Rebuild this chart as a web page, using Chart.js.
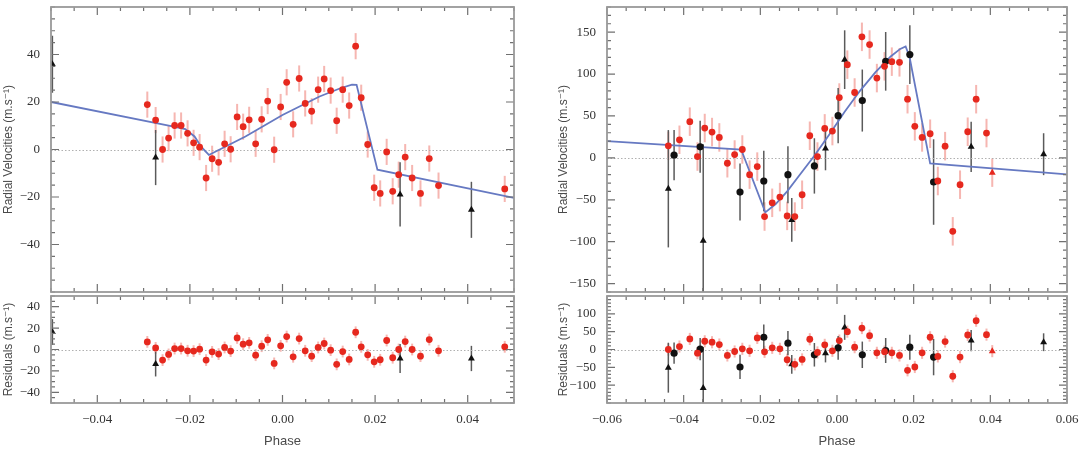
<!DOCTYPE html>
<html>
<head>
<meta charset="utf-8">
<script src="https://cdn.jsdelivr.net/npm/chart.js@4.4.1/dist/chart.umd.min.js"></script>
<style>
  html, body { margin: 0; padding: 0; background: #fff; }
  #wrap { position: relative; width: 1080px; height: 450px; overflow: hidden; background: #fff; }
  canvas { position: absolute; }
</style>
</head>
<body>
<div id="wrap">
  <canvas id="leftMain" width="520" height="300" style="left:0;top:0"></canvas>
  <canvas id="leftRes" width="520" height="160" style="left:0;top:290px"></canvas>
  <canvas id="rightMain" width="525" height="300" style="left:555px;top:0"></canvas>
  <canvas id="rightRes" width="525" height="160" style="left:555px;top:290px"></canvas>
</div>
<script>
// ---- left panel data ----
const leftRedPhase = [-0.0292, -0.0274, -0.0259, -0.0246, -0.0233, -0.0219, -0.0205, -0.0192, -0.0179, -0.0165,
  -0.0152, -0.0138, -0.0125, -0.0112, -0.0098, -0.0085, -0.0072, -0.0058, -0.0045, -0.0032,
  -0.0018, -0.0004, 0.0009, 0.0023, 0.0036, 0.0049, 0.0063, 0.0077, 0.0090, 0.0104,
  0.0117, 0.0130, 0.0144, 0.0158, 0.0170, 0.0184, 0.0198, 0.0211, 0.0225, 0.0238,
  0.0251, 0.0265, 0.0280, 0.0298, 0.0317, 0.0337, 0.0480];
const leftRedRV = [18.9, 12.4, 0, 4.8, 10.1, 10.1, 6.8, 2.8, 1.0, -12,
  -3.9, -5.4, 2.4, 0.1, 13.7, 9.6, 12.5, 2.4, 12.7, 20.4,
  -0.1, 17.9, 28.3, 10.6, 29.9, 19.4, 16.1, 25.2, 29.7, 24.8,
  12.1, 25.2, 18.5, 43.5, 21.8, 2.1, -16.1, -18.5, -1.0, -17.6,
  -10.6, -3.2, -12, -18.5, -3.8, -15.2, -16.6];
const leftRedRes = [7.1, 1.5, -9.9, -4.6, 0.9, 0.9, -1.2, -1.5, 0.3, -9.9,
  -2.2, -4.3, 1.9, -1.5, 10.8, 5.0, 6.2, -5.3, 3.1, 9.0,
  -13.0, 3.4, 12.1, -6.8, 10.2, -1.2, -6.2, 1.9, 5.6, -0.6,
  -13.9, -1.9, -9.3, 16.1, 2.5, -5.0, -11.5, -9.6, 8.4, -7.7,
  0, 7.4, 0, -6.2, 9.3, -1.2, 2.5];
const leftRedErr = 5.5;

const leftBlackPhase = [-0.0497, -0.0274, 0.0254, 0.0408];
const leftBlackRV = [35.9, -3.4, -18.9, -25.4];
const leftBlackRes = [16.4, -13.6, -8.4, -8.4];
const leftBlackErr = [12, 11.6, 13.5, 11.8];

const leftModelPhase = [-0.05, -0.0235, -0.021, -0.019, -0.0175, -0.0159, -0.008, 0, 0.008, 0.0125, 0.015, 0.016, 0.0205, 0.05];
const leftModelRV = [20, 9.6, 8.6, 5.5, 1.0, -2.3, 5.5, 14.5, 22.3, 25.8, 27.3, 27.2, -8.5, -20.4];

const leftXTicks = [-0.04, -0.02, 0, 0.02, 0.04];
const leftYTicks = [-40, -20, 0, 20, 40];
const leftResTicks = [-40, -20, 0, 20, 40];

// ---- right panel data ----
const rightRedPhase = [-0.0440, -0.0411, -0.0384, -0.0364, -0.0345, -0.0326, -0.0307, -0.0286, -0.0267, -0.0247,
  -0.0228, -0.0208, -0.0189, -0.0169, -0.0149, -0.0130, -0.0110, -0.0091, -0.0071, -0.0051,
  -0.0032, -0.0012, 0.0006, 0.0027, 0.0046, 0.0065, 0.0085, 0.0104, 0.0124, 0.0143,
  0.0163, 0.0184, 0.0203, 0.0222, 0.0243, 0.0263, 0.0282, 0.0302, 0.0321, 0.0341,
  0.0363, 0.0390];
const rightRedRV = [14.4, 21.6, 43.2, 1.6, 35.6, 30.8, 24.4, -6.4, 4, 10,
  -20, -10.4, -70, -53.6, -46.8, -69.2, -70, -44, 26.4, 1.6,
  35.2, 32, 72, 111.2, 78, 144.4, 135.2, 95.2, 109.2, 114.8,
  114, 70, 37.6, 24.4, 28.8, -27.6, 14, -87.6, -32, 31.2,
  70, 29.6];
const rightRedRes = [0, 8.3, 29.6, -10.2, 23.1, 20.4, 13.9, -16.7, -5.6, 1.9,
  -3.7, 32.4, -6.5, 4.6, 1.9, -28.7, -41.7, -27.8, 28.7, -8.3,
  13, -3.7, 25, 50, 6.5, 60.2, 38.9, -9.3, -6, -9.3,
  -16.7, -58.3, -49, -9.3, 34.3, -19.4, 22.2, -75, -21.3, 40.7,
  80.6, 41.7];
const rightRedErr = 17;

const rightRedTriPhase = [0.0405];
const rightRedTriRV = [-17.6];
const rightRedTriRes = [-4.6];

const rightBlackCircPhase = [-0.0425, -0.0357, -0.0253, -0.0191, -0.0128, -0.0059, 0.0003, 0.0066, 0.0127, 0.0190, 0.0252];
const rightBlackCircRV = [3.2, 13.2, -40.8, -27.6, -20, -9.6, 50.4, 68.4, 115.2, 123.2, -28.8];
const rightBlackCircRes = [-10.2, 1, -49, 34.3, 17.6, -14.8, 4.6, -14.8, -2.8, 6.5, -21.3];
const rightBlackCircErr = [30, 31, 34, 36, 34, 33, 33, 37, 35, 35, 51];

const rightBlackTriPhase = [-0.0440, -0.0349, -0.0118, -0.0030, 0.0020, 0.0350, 0.0539];
const rightBlackTriRV = [-36.8, -98.8, -74, 11.2, 117.2, 13.2, 4.4];
const rightBlackTriRes = [-51, -108, -41.7, -10.2, 62, 25, 20.4];
const rightBlackTriErr = [70, 115, 26, 26, 35, 30, 25];

const rightModelPhase = [-0.06, -0.025, -0.0187, -0.016, -0.013, -0.010, -0.006, -0.002, 0.002, 0.006, 0.010, 0.014, 0.0165, 0.0179, 0.0189, 0.0243, 0.06];
const rightModelRV = [20, 10, -65, -55, -40, -22, 2, 28, 55, 80, 102, 121, 130, 133, 121, -6.5, -19.6];

const rightXTicks = [-0.06, -0.04, -0.02, 0, 0.02, 0.04, 0.06];
const rightYTicks = [-150, -100, -50, 0, 50, 100, 150];
const rightResTicks = [-100, -50, 0, 50, 100];

// ---- styles ----
const RED = '#e6281e';
const RED_ERR = 'rgba(238, 110, 100, 0.5)';
const BLACK = '#111111';
const BLACK_ERR = '#5a5a5a';
const MODEL = '#6679c2';
const FRAME = '#999999';
const TICK = '#707070';
const TEXT = '#333333';
const TITLE = '#4a4a4a';
const SERIF = "'Liberation Serif', 'DejaVu Serif', serif";
const SANS = "'Liberation Sans', 'DejaVu Sans', sans-serif";

function pts(xs, ys) {
    return xs.map((x, i) => ({ x: x, y: ys[i] }));
}

function fmt(v, d) {
    const s = Math.abs(v).toFixed(d);
    return (v < -1e-12 ? '\u2212' : '') + s;
}

// vertical error bars, drawn through the chart scales
const errorBars = {
    id: 'errorBars',
    beforeDatasetsDraw(chart) {
        const { ctx, chartArea: a, scales: { x, y } } = chart;
        ctx.save();
        ctx.beginPath();
        ctx.rect(a.left, a.top, a.width, a.height);
        ctx.clip();
        chart.data.datasets.forEach(ds => {
            if (ds.errors == null) return;
            ctx.strokeStyle = ds.errorColor;
            ctx.lineWidth = ds.errorWidth;
            ds.data.forEach((p, i) => {
                const e = Array.isArray(ds.errors) ? ds.errors[i] : ds.errors;
                const px = x.getPixelForValue(p.x);
                ctx.beginPath();
                ctx.moveTo(px, y.getPixelForValue(p.y - e));
                ctx.lineTo(px, y.getPixelForValue(p.y + e));
                ctx.stroke();
            });
        });
        ctx.restore();
    }
};

function stepValues(min, max, step) {
    const out = [];
    const first = Math.ceil(min / step - 1e-6);
    const last = Math.floor(max / step + 1e-6);
    for (let k = first; k <= last; k++) out.push(k * step);
    return out;
}
const isMajor = (v, list) => list.some(m => Math.abs(m - v) < 1e-9);

// boxed frame with inward ticks on all four sides + dotted zero line
function frameFor(cfg) {
    return {
        id: 'frame',
        beforeDatasetsDraw(chart) {
            const { ctx, chartArea: a, scales: { y } } = chart;
            const py = Math.round(y.getPixelForValue(0)) + 0.5;
            ctx.save();
            ctx.strokeStyle = '#b0b0b0';
            ctx.lineWidth = 1;
            ctx.setLineDash([1.5, 2]);
            ctx.beginPath();
            ctx.moveTo(a.left, py);
            ctx.lineTo(a.right, py);
            ctx.stroke();
            ctx.restore();
        },
        afterDraw(chart) {
            const ctx = chart.ctx;
            const a = chart.chartArea;
            const xs = chart.scales.x;
            const ys = chart.scales.y;
            ctx.save();
            ctx.setLineDash([]);
            ctx.strokeStyle = TICK;
            ctx.lineWidth = 1.2;
            ctx.beginPath();
            stepValues(cfg.xMin, cfg.xMax, cfg.xStep).forEach(v => {
                const len = isMajor(v, cfg.xMajor) ? 8 : 4;
                const px = xs.getPixelForValue(v);
                ctx.moveTo(px, a.bottom);
                ctx.lineTo(px, a.bottom - len);
                ctx.moveTo(px, a.top);
                ctx.lineTo(px, a.top + len);
            });
            stepValues(cfg.yMin, cfg.yMax, cfg.yStep).forEach(v => {
                const len = isMajor(v, cfg.yMajor) ? 8 : 4;
                const py = ys.getPixelForValue(v);
                ctx.moveTo(a.left, py);
                ctx.lineTo(a.left + len, py);
                ctx.moveTo(a.right, py);
                ctx.lineTo(a.right - len, py);
            });
            ctx.stroke();
            ctx.strokeStyle = FRAME;
            ctx.lineWidth = 1.8;
            ctx.strokeRect(a.left, a.top, a.right - a.left, a.bottom - a.top);
            ctx.restore();
        }
    };
}

function xAxis(min, max, ticks, show) {
    return {
        type: 'linear', min: min, max: max, display: show,
        afterBuildTicks: s => { s.ticks = ticks.map(v => ({ value: v })); },
        afterFit: s => { s.height = show ? 47 : 0; s.paddingLeft = 0; s.paddingRight = 0; },
        grid: { display: false, drawTicks: false },
        border: { display: false },
        ticks: {
            color: TEXT, padding: 9, maxRotation: 0, autoSkip: false,
            font: { family: SERIF, size: 13 },
            callback: v => fmt(v, 2)
        },
        title: {
            display: show, text: 'Phase', color: TITLE,
            font: { family: SANS, size: 13 },
            padding: { top: 0, bottom: 1 }
        }
    };
}

function yAxis(min, max, ticks, width, title) {
    return {
        type: 'linear', min: min, max: max,
        afterBuildTicks: s => { s.ticks = ticks.map(v => ({ value: v })); },
        afterFit: s => { s.width = width; s.paddingTop = 0; s.paddingBottom = 0; },
        grid: { display: false, drawTicks: false },
        border: { display: false },
        ticks: {
            color: TEXT, padding: 11,
            font: { family: SERIF, size: 13 },
            callback: v => fmt(v, 0)
        },
        title: {
            display: true, text: title, color: TITLE,
            font: { family: SANS, size: 12 },
            padding: { top: 1, bottom: 0 }
        }
    };
}

function points(data, style, color, radius, errors, errColor, errWidth) {
    return {
        data: data, showLine: false, pointStyle: style,
        pointRadius: radius, pointHoverRadius: radius,
        backgroundColor: color, borderColor: color, borderWidth: 0,
        errors: errors, errorColor: errColor, errorWidth: errWidth
    };
}

function modelLine(data) {
    return {
        data: data, showLine: true, pointRadius: 0, pointHoverRadius: 0,
        borderColor: MODEL, borderWidth: 1.8, tension: 0, fill: false
    };
}

function makeChart(id, datasets, scales, padding, tickCfg) {
    tickCfg.xMin = scales.x.min; tickCfg.xMax = scales.x.max;
    tickCfg.yMin = scales.y.min; tickCfg.yMax = scales.y.max;
    return new Chart(document.getElementById(id), {
        type: 'scatter',
        data: { datasets: datasets },
        options: {
            responsive: false,
            animation: false,
            events: [],
            layout: { padding: padding },
            scales: scales,
            plugins: { legend: { display: false }, tooltip: { enabled: false } }
        },
        plugins: [errorBars, frameFor(tickCfg)]
    });
}

// left, radial velocities
makeChart('leftMain', [
    points(pts(leftRedPhase, leftRedRV), 'circle', RED, 3.4, leftRedErr, RED_ERR, 2),
    points(pts(leftBlackPhase, leftBlackRV), 'triangle', BLACK, 4, leftBlackErr, BLACK_ERR, 1.5),
    modelLine(pts(leftModelPhase, leftModelRV))
], {
    x: xAxis(-0.05, 0.05, leftXTicks, false),
    y: yAxis(-60, 60, leftYTicks, 51, 'Radial Velocities (m.s\u207B\u00B9)')
}, { top: 7, right: 6, bottom: 8, left: 0 },
{ xStep: 0.005, xMajor: leftXTicks, yStep: 5, yMajor: leftYTicks });

// left, residuals
makeChart('leftRes', [
    points(pts(leftRedPhase, leftRedRes), 'circle', RED, 3.4, leftRedErr, RED_ERR, 2),
    points(pts(leftBlackPhase, leftBlackRes), 'triangle', BLACK, 4, leftBlackErr, BLACK_ERR, 1.5)
], {
    x: xAxis(-0.05, 0.05, leftXTicks, true),
    y: yAxis(-50, 50, leftResTicks, 51, 'Residuals (m.s\u207B\u00B9)')
}, { top: 6, right: 6, bottom: 0, left: 0 },
{ xStep: 0.005, xMajor: leftXTicks, yStep: 5, yMajor: leftResTicks });

// right, radial velocities
makeChart('rightMain', [
    points(pts(rightRedPhase, rightRedRV), 'circle', RED, 3.4, rightRedErr, RED_ERR, 2),
    points(pts(rightRedTriPhase, rightRedTriRV), 'triangle', RED, 4, rightRedErr, RED_ERR, 2),
    points(pts(rightBlackCircPhase, rightBlackCircRV), 'circle', BLACK, 3.6, rightBlackCircErr, BLACK_ERR, 1.5),
    points(pts(rightBlackTriPhase, rightBlackTriRV), 'triangle', BLACK, 4, rightBlackTriErr, BLACK_ERR, 1.5),
    modelLine(pts(rightModelPhase, rightModelRV))
], {
    x: xAxis(-0.06, 0.06, rightXTicks, false),
    y: yAxis(-160, 180, rightYTicks, 52, 'Radial Velocities (m.s\u207B\u00B9)')
}, { top: 7, right: 13, bottom: 8, left: 0 },
{ xStep: 0.005, xMajor: rightXTicks, yStep: 10, yMajor: rightYTicks });

// right, residuals
makeChart('rightRes', [
    points(pts(rightRedPhase, rightRedRes), 'circle', RED, 3.4, rightRedErr, RED_ERR, 2),
    points(pts(rightRedTriPhase, rightRedTriRes), 'triangle', RED, 4, rightRedErr, RED_ERR, 2),
    points(pts(rightBlackCircPhase, rightBlackCircRes), 'circle', BLACK, 3.6, rightBlackCircErr, BLACK_ERR, 1.5),
    points(pts(rightBlackTriPhase, rightBlackTriRes), 'triangle', BLACK, 4, rightBlackTriErr, BLACK_ERR, 1.5)
], {
    x: xAxis(-0.06, 0.06, rightXTicks, true),
    y: yAxis(-150, 150, rightResTicks, 52, 'Residuals (m.s\u207B\u00B9)')
}, { top: 6, right: 13, bottom: 0, left: 0 },
{ xStep: 0.005, xMajor: rightXTicks, yStep: 10, yMajor: rightResTicks });
</script>
</body>
</html>
